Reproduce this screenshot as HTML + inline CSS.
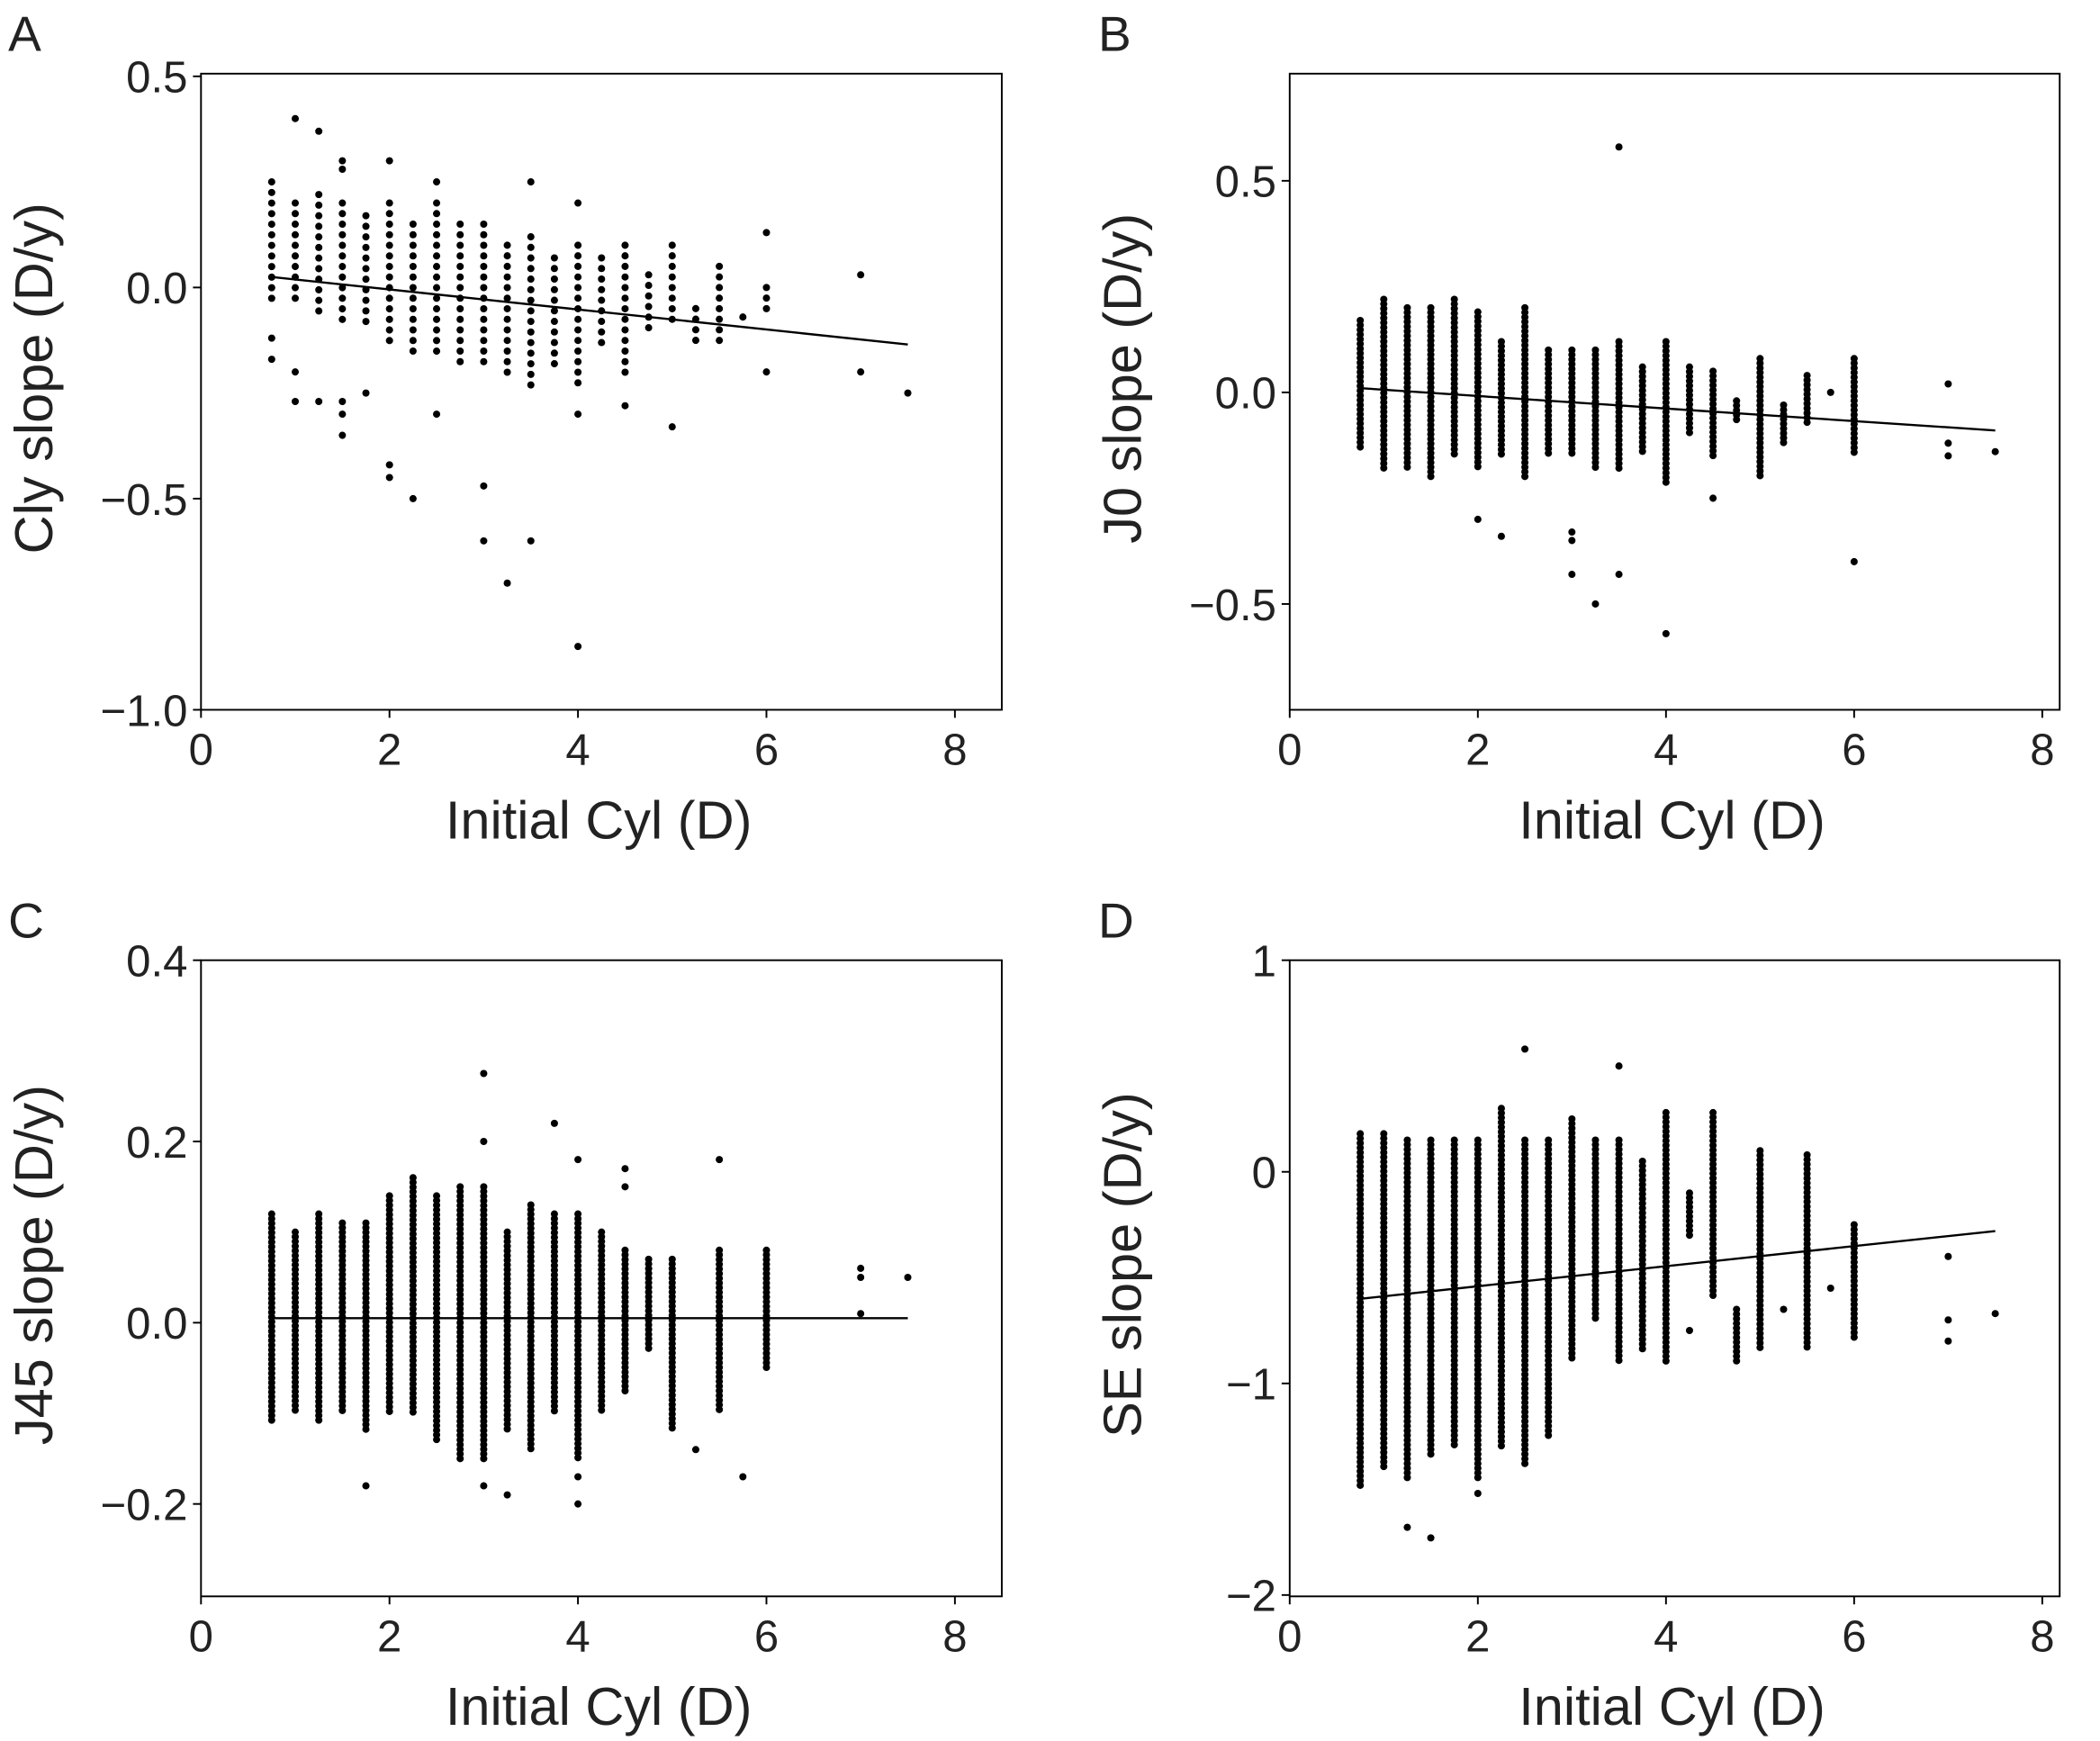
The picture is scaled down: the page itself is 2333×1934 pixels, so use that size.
<!DOCTYPE html>
<html><head><meta charset="utf-8">
<style>
html,body{margin:0;padding:0;background:#fff;}
svg{display:block;font-family:"Liberation Sans",Arial,sans-serif;}
</style></head>
<body>
<svg id="fig" width="2333" height="1934" viewBox="0 0 1568 1300" xmlns="http://www.w3.org/2000/svg"></svg>
<script>
// ---- Panel A data: columns [x, low, high], outliers [x, y]
const aCols = [[0.75,-0.05,0.25],[1,-0.05,0.2],[1.25,-0.07,0.22],[1.5,-0.1,0.2],[1.75,-0.1,0.17],[2,-0.15,0.2],[2.25,-0.17,0.15],[2.5,-0.17,0.2],[2.75,-0.2,0.15],[3,-0.2,0.15],[3.25,-0.22,0.1],[3.5,-0.25,0.12],[3.75,-0.2,0.07],[4,-0.25,0.1],[4.25,-0.15,0.07],[4.5,-0.22,0.1],[4.75,-0.12,0.03],[5,-0.1,0.1],[5.25,-0.15,-0.05],[5.5,-0.15,0.05],[6,-0.07,0.0]];
const aOut = [[0.75,-0.12],[0.75,-0.17],[1,0.4],[1,-0.2],[1,-0.27],[1.25,0.37],[1.25,-0.27],[1.5,0.3],[1.5,0.28],[1.5,-0.27],[1.5,-0.3],[1.5,-0.35],[1.75,-0.25],[2,0.3],[2,-0.42],[2,-0.45],[2.25,-0.5],[2.5,0.25],[2.5,-0.3],[3,-0.47],[3,-0.6],[3.25,-0.7],[3.5,0.25],[3.5,-0.6],[4,0.2],[4,-0.3],[4,-0.85],[4.5,-0.28],[5,-0.33],[5.75,-0.07],[6,0.13],[6,-0.2],[7,0.03],[7,-0.2],[7.5,-0.25]];
const aFit = [[0.75,0.025],[7.5,-0.135]];
const aYTicks = [0.5,0.0,-0.5,-1.0];
const aYLabels = ["0.5","0.0","\u22120.5","\u22121.0"];

// ---- Panel B
const bCols = [[0.75,-0.14,0.17],[1,-0.18,0.22],[1.25,-0.18,0.2],[1.5,-0.2,0.2],[1.75,-0.15,0.22],[2,-0.18,0.19],[2.25,-0.15,0.12],[2.5,-0.2,0.2],[2.75,-0.15,0.1],[3,-0.15,0.1],[3.25,-0.18,0.1],[3.5,-0.18,0.12],[3.75,-0.15,0.06],[4,-0.22,0.12],[4.25,-0.1,0.06],[4.5,-0.15,0.05],[4.75,-0.07,-0.02],[5,-0.2,0.08],[5.25,-0.12,-0.03],[5.5,-0.08,0.04],[6,-0.15,0.08]];
const bOut = [[2,-0.3],[2.25,-0.34],[3,-0.33],[3,-0.35],[3,-0.43],[3.25,-0.5],[3.5,0.58],[3.5,-0.43],[4,-0.57],[4.5,-0.25],[5.75,0.0],[6,-0.4],[7,0.02],[7,-0.12],[7,-0.15],[7.5,-0.14]];
const bFit = [[0.75,0.01],[7.5,-0.09]];
const bYTicks = [0.5,0.0,-0.5];
const bYLabels = ["0.5","0.0","\u22120.5"];

// ---- Panel C
const cCols = [[0.75,-0.11,0.12],[1,-0.1,0.1],[1.25,-0.11,0.12],[1.5,-0.1,0.11],[1.75,-0.12,0.11],[2,-0.1,0.14],[2.25,-0.1,0.16],[2.5,-0.13,0.14],[2.75,-0.15,0.15],[3,-0.15,0.15],[3.25,-0.12,0.1],[3.5,-0.14,0.13],[3.75,-0.1,0.12],[4,-0.15,0.12],[4.25,-0.1,0.1],[4.5,-0.08,0.08],[4.75,-0.03,0.07],[5,-0.12,0.07],[5.5,-0.1,0.08],[6,-0.05,0.08]];
const cOut = [[1.75,-0.18],[3,0.2],[3,0.275],[3,-0.18],[3.25,-0.19],[3.75,0.22],[4,0.18],[4,-0.17],[4,-0.2],[4.5,0.17],[4.5,0.15],[5.25,-0.14],[5.5,0.18],[5.75,-0.17],[7,0.01],[7,0.06],[7,0.05],[7.5,0.05]];
const cFit = [[0.75,0.005],[7.5,0.005]];
const cYTicks = [0.4,0.2,0.0,-0.2];
const cYLabels = ["0.4","0.2","0.0","\u22120.2"];

// ---- Panel D
const dCols = [[0.75,-1.5,0.18],[1,-1.4,0.18],[1.25,-1.45,0.15],[1.5,-1.35,0.15],[1.75,-1.3,0.15],[2,-1.45,0.15],[2.25,-1.3,0.3],[2.5,-1.38,0.15],[2.75,-1.25,0.15],[3,-0.9,0.25],[3.25,-0.7,0.15],[3.5,-0.9,0.15],[3.75,-0.85,0.05],[4,-0.9,0.28],[4.25,-0.3,-0.1],[4.5,-0.6,0.28],[4.75,-0.9,-0.65],[5,-0.85,0.1],[5.5,-0.85,0.08],[6,-0.8,-0.25]];
const dOut = [[1.25,-1.68],[1.5,-1.73],[2,-1.52],[2.5,0.58],[3.5,0.5],[4.25,-0.75],[5.25,-0.65],[5.75,-0.55],[7,-0.4],[7,-0.7],[7,-0.8],[7.5,-0.67]];
const dFit = [[0.75,-0.6],[7.5,-0.28]];
const dYTicks = [1,0,-1,-2];
const dYLabels = ["1","0","\u22121","\u22122"];

const xTicks = [0,2,4,6,8];
const xLabels = ["0","2","4","6","8"];

const NS = "http://www.w3.org/2000/svg";
const svg = document.getElementById('fig');
function mk(tag, attrs, parent){
  const e = document.createElementNS(NS, tag);
  for (const k in attrs) e.setAttribute(k, attrs[k]);
  parent.appendChild(e);
  return e;
}

function panel(cfg){
  const g = mk('g', {}, svg);
  
  
  const X = v => cfg.x0 + (v) * (cfg.x8 - cfg.x0) / 8;
  const Y = v => cfg.yA + (v - cfg.vA) * (cfg.yB - cfg.yA) / (cfg.vB - cfg.vA);
  const box = mk('rect', {x:cfg.L, y:cfg.T, width:cfg.R-cfg.L, height:cfg.B-cfg.T, fill:'none', stroke:'#000', 'stroke-width':1.3}, g);
  
  
  xTicks.forEach((t,i)=>{
    const tk = mk('line', {x1:X(t), x2:X(t), y1:cfg.B, y2:cfg.B+6, stroke:'#000','stroke-width':1.3}, g);
    
    
    const tx = mk('text', {x:X(t), y:cfg.B+41, 'font-size':33, 'text-anchor':'middle', fill:'#222'}, g);
    tx.textContent = xLabels[i];
    
    
  });
  cfg.yTicks.forEach((t,i)=>{
    const tk = mk('line', {x1:cfg.L-6, x2:cfg.L, y1:Y(t), y2:Y(t), stroke:'#000','stroke-width':1.3}, g);
    
    
    const tx = mk('text', {x:cfg.L-10, y:Y(t)+12, 'font-size':33, 'text-anchor':'end', fill:'#222'}, g);
    tx.textContent = cfg.yLabels[i];
    
    
  });
  const xt = mk('text', {x:(cfg.L+cfg.R)/2 - 2, y:cfg.B+96, 'font-size':40, 'text-anchor':'middle', fill:'#222'}, g);
  xt.textContent = 'Initial Cyl (D)';
  
  
  const yx = cfg.L - 111, yy = (cfg.T+cfg.B)/2 - 10;
  const yt = mk('text', {x:yx, y:yy, 'font-size':40, 'text-anchor':'middle', fill:'#222', transform:`rotate(-90 ${yx} ${yy})`}, g);
  yt.textContent = cfg.yTitle;
  
  
  const lt = mk('text', {x:cfg.letterX, y:cfg.T-17, 'font-size':37, fill:'#222'}, g);
  lt.textContent = cfg.id;
  
  
  const dg = mk('g', {fill:'#000'}, g);
  
  
  cfg.cols.forEach(c=>{
    const px = X(c[0]), p1 = Y(c[2]), p2 = Y(c[1]);
    for (let p = p1; p <= p2 + 0.01; p += cfg.gap){
      const d = mk('circle', {cx:px, cy:p, r:2.7}, dg);
      
      
    }
  });
  cfg.out.forEach(o=>{
    const d = mk('circle', {cx:X(o[0]), cy:Y(o[1]), r:2.7}, dg);
    
    
  });
  const fl = mk('line', {x1:X(cfg.fit[0][0]), y1:Y(cfg.fit[0][1]), x2:X(cfg.fit[1][0]), y2:Y(cfg.fit[1][1]), stroke:'#000','stroke-width':1.6}, g);
  
  
}

panel({id:'A', L:150,R:748,T:55,B:530, x0:150,x8:713, vA:0.5,yA:57,vB:-1.0,yB:530, yTicks:aYTicks,yLabels:aYLabels, yTitle:'Cly slope (D/y)', cols:aCols,out:aOut,fit:aFit, gap:7.9, letterX:6});
panel({id:'B', L:963,R:1538,T:55,B:530, x0:963,x8:1525, vA:0.5,yA:135,vB:-0.5,yB:451, yTicks:bYTicks,yLabels:bYLabels, yTitle:'J0 slope (D/y)', cols:bCols,out:bOut,fit:bFit, gap:3.5, letterX:820});
panel({id:'C', L:150,R:748,T:717,B:1192, x0:150,x8:713, vA:0.4,yA:717,vB:-0.2,yB:1123, yTicks:cYTicks,yLabels:cYLabels, yTitle:'J45 slope (D/y)', cols:cCols,out:cOut,fit:cFit, gap:3.5, letterX:6});
panel({id:'D', L:963,R:1538,T:717,B:1192, x0:963,x8:1525, vA:1,yA:717,vB:-2,yB:1191, yTicks:dYTicks,yLabels:dYLabels, yTitle:'SE slope (D/y)', cols:dCols,out:dOut,fit:dFit, gap:3.5, letterX:820});
</script>
</body></html>
